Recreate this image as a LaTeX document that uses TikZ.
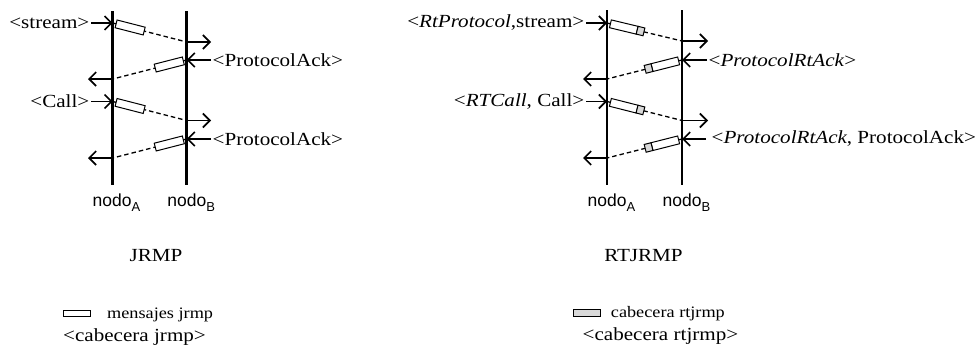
\documentclass[tikz,border=0pt]{standalone}
\usepackage{fontspec}
\setmainfont{Liberation Serif}[FakeStretch=1.14]
\newfontfamily\nodofont{Liberation Sans}
\usetikzlibrary{arrows.meta,calc}

\tikzset{
 life/.style={line width=2.8pt},
 arr/.style={line width=1.6pt, -{Straight Barb[length=7pt,width=14pt]}},
 dash line/.style={line width=1.3pt, dash pattern=on 4.5pt off 3pt},
 boxline/.style={line width=1pt, draw=black, fill=white},
 hdr/.style={line width=1pt, draw=black, fill=black!15},
 lbl/.style={inner sep=1.5pt, font=\fontsize{18.5}{20}\selectfont},
 nodolbl/.style={inner sep=0pt, font=\nodofont\fontsize{17.5}{20}\selectfont},
 titlelbl/.style={inner sep=0pt, font=\fontsize{18.5}{20}\selectfont},
 legtxt/.style={inner sep=0pt, font=\fontsize{16}{17}\selectfont},
}

\newcommand\mybox[5]{%
 \filldraw[#5] ($(#1)!#3!(#2)!4pt!90:(#2)$) -- ($(#1)!#4!(#2)!4pt!90:(#2)$) -- ($(#1)!#4!(#2)!4pt!-90:(#2)$) -- ($(#1)!#3!(#2)!4pt!-90:(#2)$) -- cycle;}
\newcommand\subA[1]{\raisebox{-4.5pt}{\fontsize{13}{13}\selectfont #1}}

\begin{document}
\begin{tikzpicture}[x=1pt,y=-1pt]
\useasboundingbox (0,0) rectangle (980,351);

% ---------------- left diagram (JRMP) ----------------
\coordinate (LAt) at (112.7,11);  \coordinate (LAb) at (112.7,185);
\coordinate (LBt) at (186.7,11);  \coordinate (LBb) at (186.7,185);

\coordinate (la1) at (112.7,23);   \coordinate (lb1) at (186.7,42);   \coordinate (lo1) at (211,42);
\coordinate (lb2) at (186.7,60);   \coordinate (la2) at (112.7,79);   \coordinate (lo2) at (88,79);
\coordinate (la3) at (112.7,101.5);\coordinate (lb3) at (186.7,120.5);\coordinate (lo3) at (211,120.5);
\coordinate (lb4) at (186.7,139);  \coordinate (la4) at (112.7,158);  \coordinate (lo4) at (88,158);

\node[lbl, anchor=east] (lt1) at (91,23) {<stream>};
\node[lbl, anchor=west] (lt2) at (211,60) {<ProtocolAck>};
\node[lbl, anchor=east] (lt3) at (91,101.5) {<Call>};
\node[lbl, anchor=west] (lt4) at (211,139) {<ProtocolAck>};

\draw[dash line] (la1) -- (lb1);
\draw[dash line] (lb2) -- (la2);
\draw[dash line] (la3) -- (lb3);
\draw[dash line] (lb4) -- (la4);

\mybox{la1}{lb1}{3.5pt}{32.5pt}{boxline}
\mybox{lb2}{la2}{3.5pt}{32.5pt}{boxline}
\mybox{la3}{lb3}{3.5pt}{32.5pt}{boxline}
\mybox{lb4}{la4}{3.5pt}{32.5pt}{boxline}

\draw[arr] (lt1) -- (la1);
\draw[arr] (lb1) -- (lo1);
\draw[arr] (lt2) -- (lb2);
\draw[arr] (la2) -- (lo2);
\draw[arr] (lt3) -- (la3);
\draw[arr] (lb3) -- (lo3);
\draw[arr] (lt4) -- (lb4);
\draw[arr] (la4) -- (lo4);

\draw[life] (LAt) -- (LAb);
\draw[life] (LBt) -- (LBb);

\node[nodolbl, anchor=base] (lna) at (116.5,206.5) {nodo\subA{A}};
\node[nodolbl, anchor=base] (lnb) at (191.2,206.5) {nodo\subA{B}};

\node[titlelbl] (ltitle) at (156,256) {JRMP};

\draw[boxline] (63.5,310) rectangle (90.5,316.5);
\node[legtxt, anchor=base west] (lleg1) at (107,318) {mensajes jrmp};
\node[lbl, inner sep=0pt, anchor=base west] (lleg2) at (63,341) {<cabecera jrmp>};

% ---------------- right diagram (RTJRMP) ----------------
\coordinate (RAt) at (607,10);  \coordinate (RAb) at (607,185);
\coordinate (RBt) at (682,10);  \coordinate (RBb) at (682,185);

\coordinate (ra1) at (607,23);    \coordinate (rb1) at (682,41);    \coordinate (ro1) at (708,41);
\coordinate (rb2) at (682,60);    \coordinate (ra2) at (607,79);    \coordinate (ro2) at (583,79);
\coordinate (ra3) at (607,101.5); \coordinate (rb3) at (682,120.5); \coordinate (ro3) at (708,120.5);
\coordinate (rb4) at (682,139);   \coordinate (ra4) at (607,158);   \coordinate (ro4) at (583,158);

\node[lbl, anchor=east] (rt1) at (586,23) {<\textit{RtProtocol},stream>};
\node[lbl, anchor=west] (rt2) at (707,60) {<\textit{ProtocolRtAck}>};
\node[lbl, anchor=east] (rt3) at (586,101.5) {<\textit{RTCall}, Call>};
\node[lbl, anchor=west] (rt4) at (710,139) {<\textit{ProtocolRtAck}, ProtocolAck>};

\draw[dash line] (ra1) -- (rb1);
\draw[dash line] (rb2) -- (ra2);
\draw[dash line] (ra3) -- (rb3);
\draw[dash line] (rb4) -- (ra4);

\mybox{ra1}{rb1}{3.5pt}{31pt}{boxline}
\mybox{ra1}{rb1}{31pt}{38pt}{hdr}
\mybox{rb2}{ra2}{3.5pt}{31pt}{boxline}
\mybox{rb2}{ra2}{31pt}{38pt}{hdr}
\mybox{ra3}{rb3}{3.5pt}{31pt}{boxline}
\mybox{ra3}{rb3}{31pt}{38pt}{hdr}
\mybox{rb4}{ra4}{3.5pt}{31pt}{boxline}
\mybox{rb4}{ra4}{31pt}{38pt}{hdr}

\draw[arr] (rt1) -- (ra1);
\draw[arr] (rb1) -- (ro1);
\draw[arr] (rt2) -- (rb2);
\draw[arr] (ra2) -- (ro2);
\draw[arr] (rt3) -- (ra3);
\draw[arr] (rb3) -- (ro3);
\draw[arr] ([xshift=-4pt]rt4.west) -- (rb4);
\draw[arr] (ra4) -- (ro4);

\draw[life] (RAt) -- (RAb);
\draw[life] (RBt) -- (RBb);

\node[nodolbl, anchor=base] (rna) at (611.5,206.5) {nodo\subA{A}};
\node[nodolbl, anchor=base] (rnb) at (686.5,206.5) {nodo\subA{B}};

\node[titlelbl] (rtitle) at (643.5,256) {RTJRMP};

\draw[hdr] (573.3,309.5) rectangle (600,316.3);
\node[legtxt, anchor=base west] (rleg1) at (610.7,317.5) {cabecera rtjrmp};
\node[lbl, inner sep=0pt, anchor=base west] (rleg2) at (582.5,340.7) {<cabecera rtjrmp>};
\end{tikzpicture}
\end{document}
